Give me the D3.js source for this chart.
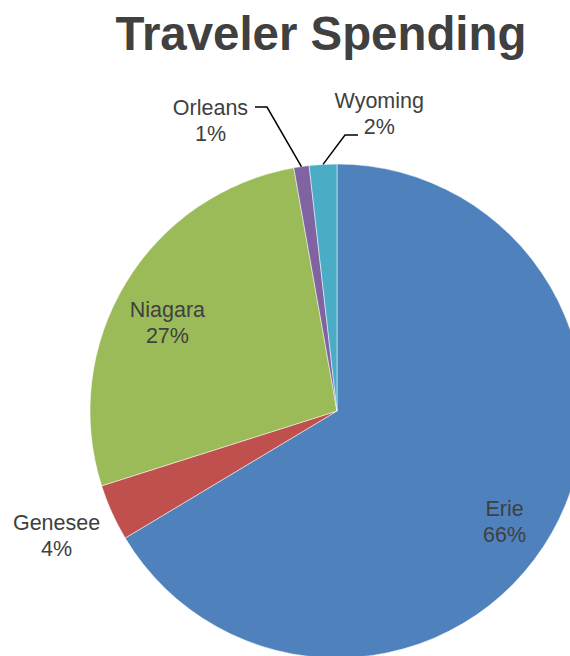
<!DOCTYPE html>
<html>
<head>
<meta charset="utf-8">
<script src="https://cdn.jsdelivr.net/npm/d3@7"></script>
<style>
  body { margin: 0; background: #fff; }
  svg { display: block; font-family: "Liberation Sans", Arial, sans-serif; }
</style>
</head>
<body>
<div id="chart"></div>
<script>
var counties = ["Erie", "Genesee", "Niagara", "Orleans", "Wyoming"];
var shares = [66.4, 3.7, 27.1, 1.0, 1.8];
var pctLabels = ["66%", "4%", "27%", "1%", "2%"];
var colors = ["#4f81bd", "#c0504d", "#9bbb59", "#8064a2", "#4bacc6"];

var width = 570, height = 656;
var cx = 337, cy = 411, radius = 247;

// label placement: angle (deg, clockwise from top) and distance from centre
var labelPlace = {
  Erie:    { a: 123.5, r: 201 },
  Genesee: { a: 246,   r: 307 },
  Niagara: { a: 297.4, r: 191 },
  Orleans: { a: 336.4, r: 316 },
  Wyoming: { a: 8.1,   r: 300 }
};
// leader line elbows for the small slices
var leaders = {
  Orleans: [[267, 107], [255, 107]],
  Wyoming: [[345, 135], [358, 135]]
};

var data = counties.map(function(c, i) {
  return { name: c, value: shares[i], pct: pctLabels[i], color: colors[i] };
});

var svg = d3.select("#chart").append("svg")
  .attr("width", width)
  .attr("height", height);

svg.append("text")
  .attr("x", 321)
  .attr("y", 50)
  .attr("text-anchor", "middle")
  .attr("font-size", "47.4px")
  .attr("font-weight", "bold")
  .attr("fill", "#404040")
  .text("Traveler Spending");

var pie = d3.pie().sort(null).value(function(d) { return d.value; });
var arc = d3.arc().innerRadius(0).outerRadius(radius);

var g = svg.append("g").attr("transform", "translate(" + cx + "," + cy + ")");
var arcs = pie(data);

g.selectAll("path.slice")
  .data(arcs)
  .enter()
  .append("path")
  .attr("class", "slice")
  .attr("d", arc)
  .attr("fill", function(d) { return d.data.color; })
  .attr("stroke", "#fff")
  .attr("stroke-width", 0.5);

// leader lines
arcs.forEach(function(d) {
  var pts = leaders[d.data.name];
  if (!pts) return;
  var mid = (d.startAngle + d.endAngle) / 2;
  var start = [cx + radius * Math.sin(mid), cy - radius * Math.cos(mid)];
  svg.append("polyline")
    .attr("points", [start].concat(pts).map(function(p) { return p.join(","); }).join(" "))
    .attr("fill", "none")
    .attr("stroke", "#000")
    .attr("stroke-width", 1.5);
});

// labels
arcs.forEach(function(d) {
  var p = labelPlace[d.data.name];
  var ang = p.a * Math.PI / 180;
  var x = cx + p.r * Math.sin(ang);
  var y = cy - p.r * Math.cos(ang);
  var t = svg.append("text")
    .attr("text-anchor", "middle")
    .attr("font-size", "21.5px")
    .attr("fill", "#404040");
  t.append("tspan").attr("x", x).attr("y", y - 6).text(d.data.name);
  t.append("tspan").attr("x", x).attr("y", y + 20).text(d.data.pct);
});
</script>
</body>
</html>
